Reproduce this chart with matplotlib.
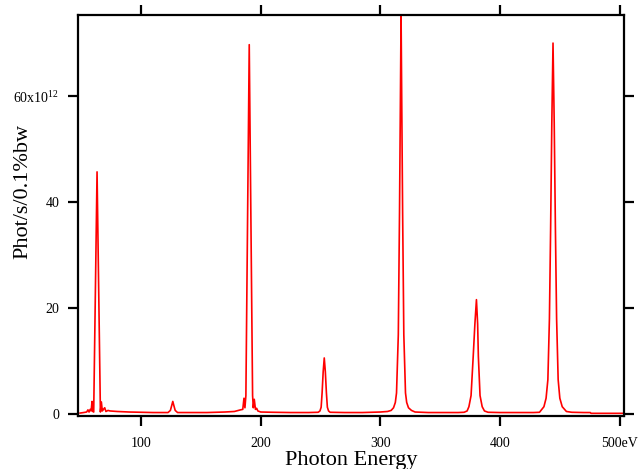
import matplotlib
matplotlib.use("Agg")
import matplotlib.pyplot as plt

# photon energy (eV) and flux (x1e12 phot/s/0.1%bw)
energy = [
    49.0, 52.0, 54.5, 55.6, 56.5, 57.5, 58.3, 59.0, 59.7, 60.4,
    61.8, 63.2, 64.6, 66.0, 66.8, 67.6, 68.5, 69.6, 70.6, 72.4,
    74.0, 80.0, 90.0, 100.0, 110.0, 118.0, 122.5, 124.5, 125.7, 126.5,
    127.3, 128.5, 130.5, 140.0, 155.0, 170.0, 178.0, 183.0, 185.0, 186.0,
    186.8, 187.6, 190.4, 193.2, 193.8, 194.6, 195.6, 196.6, 197.6, 200.0,
    210.0, 225.0, 240.0, 248.0, 249.5, 250.5, 251.3, 252.2, 253.1, 254.0,
    254.9, 255.7, 256.7, 258.0, 270.0, 285.0, 300.0, 306.0, 309.0, 311.0,
    312.5, 313.5, 315.0, 316.0, 316.7, 317.3, 317.9, 318.6, 319.6, 321.0,
    322.0, 323.5, 326.0, 329.0, 340.0, 355.0, 365.0, 370.0, 372.5, 374.0,
    375.8, 377.6, 379.0, 380.3, 381.3, 381.9, 383.3, 385.1, 387.0, 390.0,
    400.0, 415.0, 428.0, 433.0, 436.7, 438.5, 440.0, 441.3, 442.3, 443.3,
    444.3, 445.3, 446.3, 447.3, 448.6, 450.0, 452.0, 455.5, 460.0, 470.0,
    475.5, 476.0, 490.0, 503.5,
]
flux = [
    0.2, 0.3, 0.4, 0.8, 0.4, 0.9, 0.6, 2.4, 0.5, 0.4,
    23.0, 45.7, 23.0, 0.4, 2.3, 0.6, 0.9, 1.2, 0.5, 0.7,
    0.6, 0.5, 0.4, 0.35, 0.3, 0.3, 0.3, 0.7, 1.7, 2.4,
    1.7, 0.7, 0.3, 0.3, 0.3, 0.4, 0.5, 0.8, 0.9, 3.0,
    1.2, 3.5, 69.7, 3.5, 1.2, 2.8, 0.9, 1.1, 0.6, 0.4,
    0.35, 0.3, 0.3, 0.35, 0.6, 1.3, 4.0, 8.0, 10.6, 8.0,
    4.0, 1.3, 0.6, 0.35, 0.3, 0.3, 0.4, 0.5, 0.7, 1.2,
    2.2, 4.0, 15.0, 38.0, 58.0, 75.5, 58.0, 38.0, 15.0, 4.0,
    2.2, 1.2, 0.7, 0.4, 0.3, 0.3, 0.3, 0.35, 0.6, 1.4,
    3.5, 10.9, 17.0, 21.6, 17.0, 10.9, 3.5, 1.4, 0.6, 0.35,
    0.3, 0.3, 0.3, 0.35, 1.4, 3.0, 6.5, 18.0, 35.0, 55.0,
    70.0, 55.0, 35.0, 18.0, 6.5, 3.0, 1.4, 0.5, 0.35, 0.3,
    0.3, 0.15, 0.15, 0.15,
]

x_ticks = [100, 200, 300, 400, 500]
x_tick_labels = ["100", "200", "300", "400", "500eV"]
y_ticks = [0, 20, 40, 60]
y_tick_labels = ["0", "20", "40", r"60x10$^{\mathregular{12}}$"]

plt.rcParams["font.family"] = ["Liberation Serif", "DejaVu Serif"]
plt.rcParams["mathtext.fontset"] = "custom"
plt.rcParams["mathtext.rm"] = "Liberation Serif"

fig = plt.figure(figsize=(6.38, 4.69), dpi=100)
ax = fig.add_axes([0.1223, 0.1136, 0.8557, 0.8544])

ax.plot(energy, flux, color="#ff0000", lw=1.2)

ax.set_xlim(47.3, 503.6)
ax.set_ylim(-0.3, 75.3)

ax.set_xticks(x_ticks)
ax.set_xticklabels(x_tick_labels)
ax.set_yticks(y_ticks)
ax.set_yticklabels(y_tick_labels)

for side in ax.spines.values():
    side.set_linewidth(1.6)

ax.tick_params(direction="out", length=7.5, width=1.6, labelsize=10,
               top=True, right=True, pad=6)
ax.tick_params(axis="x", pad=8)

ax.set_xlabel("Photon Energy", fontsize=16)
ax.xaxis.set_label_coords(0.5, -0.087)
ax.set_ylabel("Phot/s/0.1%bw", fontsize=16)
ax.yaxis.set_label_coords(-0.083, 0.56)

fig.savefig("out.png", dpi=100)
